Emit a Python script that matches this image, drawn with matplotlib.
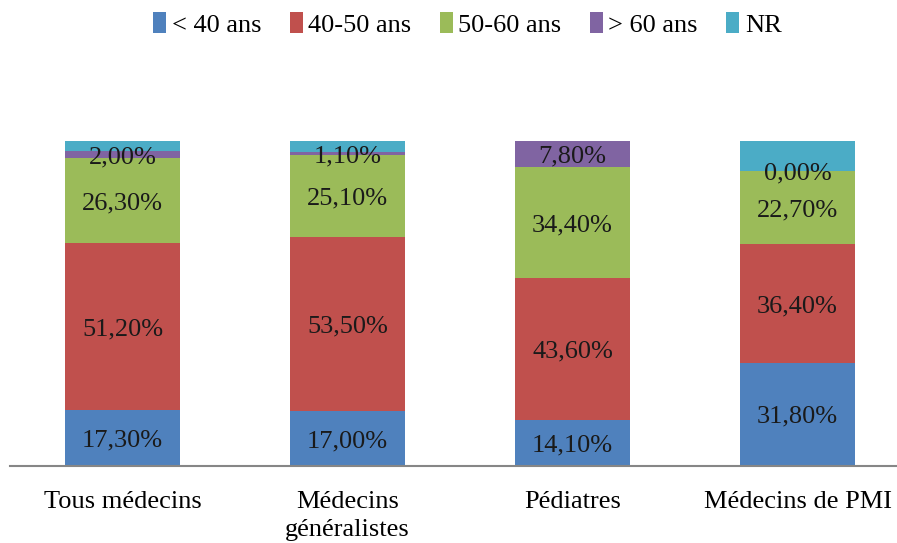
import matplotlib
matplotlib.use("Agg")
import matplotlib.pyplot as plt
from matplotlib.patches import Patch
import numpy as np

categories = ["Tous médecins", "Médecins\ngénéralistes", "Pédiatres", "Médecins de PMI"]
series_names = ["< 40 ans", "40-50 ans", "50-60 ans", "> 60 ans", "NR"]
lt40 = [17.3, 17.0, 14.1, 31.8]
a40_50 = [51.2, 53.5, 43.6, 36.4]
a50_60 = [26.3, 25.1, 34.4, 22.7]
gt60 = [2.0, 1.1, 7.8, 0.0]
nr = [3.2, 3.3, 0.1, 9.1]
labeled = [True, True, True, True, False]
colors = ["#4F81BD", "#C0504D", "#9BBB59", "#8064A2", "#4BACC6"]

plt.rcParams['font.family'] = ['Liberation Serif', 'DejaVu Serif']

fig = plt.figure(figsize=(8.97, 5.43), dpi=100)
ax = fig.add_axes([10/897, 77/543, 887/897, 325/543])

x = np.arange(len(categories))
width = 0.511
bottom = np.zeros(len(categories))
all_series = [lt40, a40_50, a50_60, gt60, nr]
for vals, name, col, lab in zip(all_series, series_names, colors, labeled):
    vals = np.array(vals)
    ax.bar(x, vals, width, bottom=bottom, color=col, label=name, zorder=2)
    if lab:
        for xi, b, v in zip(x, bottom, vals):
            ax.text(xi, b + v / 2 - 0.8, f"{v:.2f}%".replace(".", ","), ha="center", va="center",
                    fontsize=19, color="#1a1a1a", zorder=3)
    bottom += vals

ax.set_xlim(-0.5, (897 - 10) / 225 - 0.5)
ax.set_ylim(0, 100)
for s in ["top", "right", "left"]:
    ax.spines[s].set_visible(False)
ax.spines["bottom"].set_color("#868686")
ax.spines["bottom"].set_linewidth(1.5)
ax.set_yticks([])
ax.set_xticks(x)
ax.set_xticklabels(categories, fontsize=19, linespacing=1.35)
ax.tick_params(axis="x", length=0, pad=18)

handles = [Patch(facecolor=c) for c in colors]
fig.legend(handles, series_names, loc="center", bbox_to_anchor=(0.521, 0.955), ncol=5,
           frameon=False, fontsize=19, handlelength=0.5, handleheight=0.85,
           handletextpad=0.2, columnspacing=1.08)

fig.savefig("out.png", dpi=100)
